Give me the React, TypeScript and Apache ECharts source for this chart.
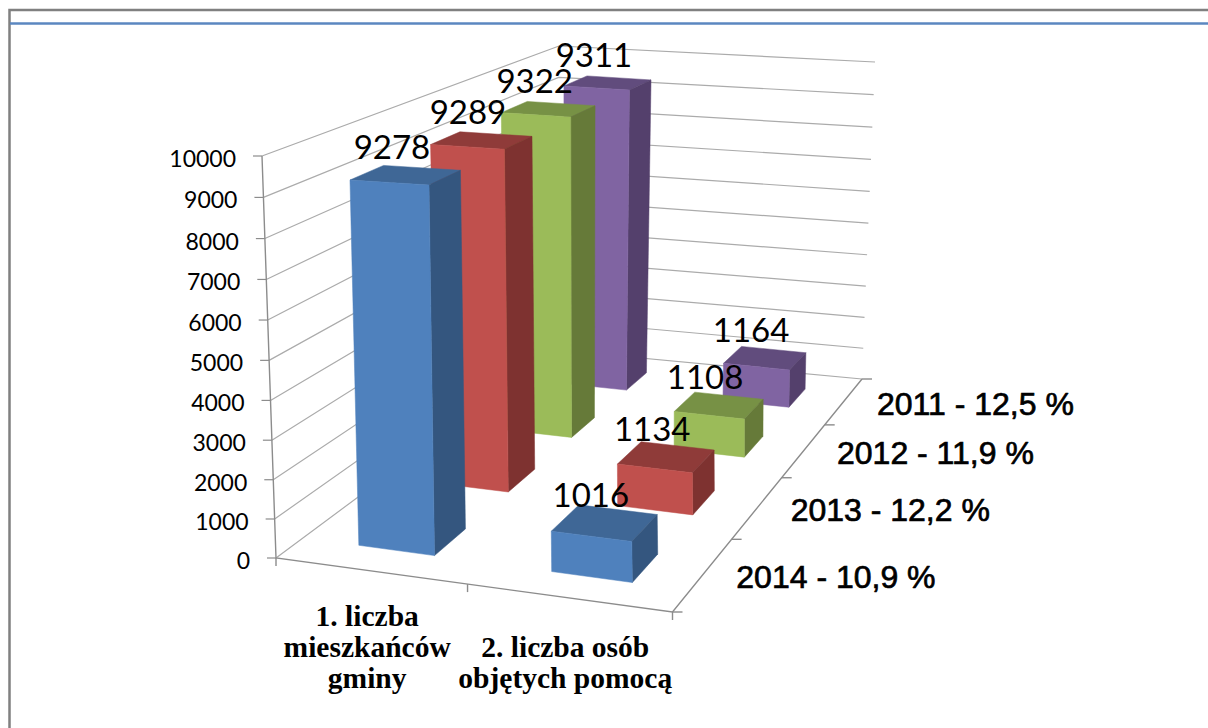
import React, { useEffect, useRef } from "react";
import * as echarts from "echarts";

const categories = ["1. liczba\nmieszkańców\ngminy", "2. liczba osób\nobjętych pomocą"];
const depthLabels = ["2014 - 10,9 %", "2013 - 12,2 %", "2012 - 11,9 %", "2011 - 12,5 %"];
const values2014 = [9278, 1016];
const values2013 = [9289, 1134];
const values2012 = [9322, 1108];
const values2011 = [9311, 1164];
const valueTicks = [0, 1000, 2000, 3000, 4000, 5000, 6000, 7000, 8000, 9000, 10000];
const frontColors = ["#4F81BD", "#C0504D", "#9BBB59", "#8064A2"];
const sideColors = ["#34567F", "#7E3230", "#667A39", "#54406C"];
const topColors = ["#3F6796", "#8F3B39", "#779145", "#614C7D"];

const GRID = { left: 276, top: 156, width: 396, height: 402 };

// Solves a linear system by Gaussian elimination
function solve(A: number[][], b: number[]) {
  const n = b.length;
  const M = A.map((r, i) => [...r, b[i]]);
  for (let i = 0; i < n; i++) {
    let p = i;
    for (let r = i + 1; r < n; r++) if (Math.abs(M[r][i]) > Math.abs(M[p][i])) p = r;
    [M[i], M[p]] = [M[p], M[i]];
    for (let r = 0; r < n; r++) {
      if (r === i) continue;
      const f = M[r][i] / M[i][i];
      for (let c = i; c <= n; c++) M[r][c] -= f * M[i][c];
    }
  }
  return M.map((r, i) => r[n] / r[i]);
}

// Perspective of the 3D box: floor corners, wall-top corners, and the plane
// through the tall bars' tops, as seen in the picture
const floorCorners = [
  [0, 0, 276, 558],
  [1, 0, 672.5, 612],
  [1, 1, 862, 379],
  [0, 1, 556, 350],
];
const barFloorCorners = [
  [0, 0, 276, 558],
  [1, 0, 675.5, 614],
  [1, 1, 865, 381],
  [0, 1, 556, 350],
];
const wallTopCorners = [
  [0, 0, 262, 156],
  [1, 0, 682, 220],
  [1, 1, 875, 62],
  [0, 1, 559, 46],
];
const barPlaneCorners = [
  [0.15, 0.075, 350, 180],
  [0.35, 0.075, 429, 185],
  [0.35, 0.925, 651, 81],
  [0.15, 0.925, 587, 77],
];
const BAR_PLANE_LEVEL = 0.9255;
const HEIGHT_FORESHORTENING = 0.034;

function homography(corners: number[][]) {
  const A: number[][] = [];
  const b: number[] = [];
  for (const [u, v, x, y] of corners) {
    A.push([u, v, 1, 0, 0, 0, -u * x, -v * x]);
    b.push(x);
    A.push([0, 0, 0, u, v, 1, -u * y, -v * y]);
    b.push(y);
  }
  const h = solve(A, b);
  return (u: number, v: number) => {
    const d = h[6] * u + h[7] * v + 1;
    return [(h[0] * u + h[1] * v + h[2]) / d, (h[3] * u + h[4] * v + h[5]) / d];
  };
}
const floorMap = homography(floorCorners);
const barFloorMap = homography(barFloorCorners);
const wallTopMap = homography(wallTopCorners);
const barPlaneMap = homography(barPlaneCorners);
const level = (w: number) => w / (1 + HEIGHT_FORESHORTENING * (1 - w));
const project = (u: number, v: number, w: number) => {
  const a = floorMap(u, v);
  const b = wallTopMap(u, v);
  const t = level(w);
  return [a[0] + (b[0] - a[0]) * t, a[1] + (b[1] - a[1]) * t];
};
const projectBar = (u: number, v: number, w: number) => {
  const a = barFloorMap(u, v);
  const b = barPlaneMap(u, v);
  const t = level(w) / BAR_PLANE_LEVEL;
  return [a[0] + (b[0] - a[0]) * t, a[1] + (b[1] - a[1]) * t];
};

const barData: number[][] = [];
[values2011, values2012, values2013, values2014].forEach((vals, k) => {
  const row = 3 - k;
  vals.forEach((val, c) => barData.push([c, val, row]));
});

const ROW_HALF_DEPTH = 0.05;
const BAR_SHARE = 0.4;
const LABEL_FONT = "33px Lato";

const wOf = (api: any, val: number) =>
  (GRID.top + GRID.height - api.coord([0, val])[1]) / GRID.height;

const renderBar = (_: any, api: any) => {
  const cat = api.value(0);
  const val = api.value(1);
  const row = api.value(2);
  const uc = (api.coord([cat, 0])[0] - GRID.left) / GRID.width;
  const du = (api.size([1, 0])[0] * BAR_SHARE) / 2 / GRID.width;
  const vc = (row + 0.5) / depthLabels.length;
  const w = wOf(api, val);
  const [u0, u1, v0, v1] = [uc - du, uc + du, vc - ROW_HALF_DEPTH, vc + ROW_HALF_DEPTH];
  const poly = (points: number[][], fill: string) => ({
    type: "polygon",
    shape: { points },
    style: { fill, stroke: fill, lineWidth: 0.5 },
  });
  return {
    type: "group",
    children: [
      poly([projectBar(u0, v1, w), projectBar(u1, v1, w), projectBar(u1, v0, w), projectBar(u0, v0, w)], topColors[row]),
      poly([projectBar(u1, v0, 0), projectBar(u1, v1, 0), projectBar(u1, v1, w), projectBar(u1, v0, w)], sideColors[row]),
      poly([projectBar(u0, v0, 0), projectBar(u1, v0, 0), projectBar(u1, v0, w), projectBar(u0, v0, w)], frontColors[row]),
    ],
  };
};

const renderBarLabel = (_: any, api: any) => {
  const cat = api.value(0);
  const val = api.value(1);
  const row = api.value(2);
  const uc = (api.coord([cat, 0])[0] - GRID.left) / GRID.width;
  const vc = (row + 0.5) / depthLabels.length;
  const [x, y] = projectBar(uc, vc, wOf(api, val));
  return {
    type: "text",
    style: {
      text: String(val),
      x: x - 14,
      y: y - 29,
      font: LABEL_FONT,
      fill: "#000",
      align: "center",
      verticalAlign: "middle",
    },
  };
};

const renderWall = (_: any, api: any) => {
  const val = api.value(1);
  const w = wOf(api, val);
  const a = project(0, 0, w);
  return {
    type: "group",
    children: [
      {
        type: "polyline",
        shape: { points: [a, project(0, 1, w), project(1, 1, w)] },
        style: { stroke: "#ABABAB", lineWidth: 1.2, fill: "none" },
      },
      {
        type: "line",
        shape: { x1: a[0] - 9, y1: a[1], x2: a[0], y2: a[1] },
        style: { stroke: "#8C8C8C", lineWidth: 1.2 },
      },
      {
        type: "text",
        style: {
          text: String(val),
          x: a[0] - 26,
          y: a[1] + 2,
          font: "23px Lato",
          fill: "#000",
          align: "right",
          verticalAlign: "middle",
        },
      },
    ],
  };
};

const renderFloor = () => {
  const axisStyle = { stroke: "#8C8C8C", lineWidth: 1.4, fill: "none" };
  const children: any[] = [
    {
      type: "polyline",
      shape: { points: [project(0, 0, 1), project(0, 0, 0), project(1, 0, 0), project(1, 1, 0)] },
      style: axisStyle,
    },
  ];
  [0, 0.5, 1].forEach((u) => {
    const p = project(u, 0, 0);
    children.push({
      type: "line",
      shape: { x1: p[0], y1: p[1], x2: p[0], y2: p[1] + 8 },
      style: axisStyle,
    });
  });
  depthLabels.forEach((label, i) => {
    const t = project(1, (i + 1) / depthLabels.length, 0);
    children.push({
      type: "line",
      shape: { x1: t[0], y1: t[1], x2: t[0] + 10, y2: t[1] },
      style: axisStyle,
    });
    const m = project(1, (i + 0.5) / depthLabels.length, 0);
    children.push({
      type: "text",
      style: {
        text: label,
        x: m[0] + 33,
        y: m[1] + 2.5,
        font: "32px 'Liberation Sans'",
        fill: "#000",
        stroke: "#000",
        lineWidth: 0.7,
        align: "left",
        verticalAlign: "middle",
      },
    });
  });
  const f = project(1, 0, 0);
  children.push({
    type: "line",
    shape: { x1: f[0], y1: f[1], x2: f[0] + 10, y2: f[1] },
    style: axisStyle,
  });
  categories.forEach((cat, c) => {
    const p = project((c + 0.5) / categories.length, 0, 0);
    children.push({
      type: "text",
      style: {
        text: cat,
        x: p[0] - 3,
        y: 693,
        font: "bold 29.5px 'Liberation Serif'",
        lineHeight: 31,
        fill: "#000",
        align: "center",
        verticalAlign: "bottom",
      },
    });
  });
  return { type: "group", children };
};

export default function App() {
  const ref = useRef<HTMLDivElement>(null);
  useEffect(() => {
    const chart = echarts.init(ref.current!, undefined, { renderer: "svg" });
    chart.setOption({
      animation: false,
      backgroundColor: "#fff",
      grid: { ...GRID, containLabel: false },
      xAxis: { type: "category", data: categories, show: false },
      yAxis: { type: "value", min: 0, max: 10000, interval: 1000, show: false },
      graphic: [
        {
          type: "polyline",
          shape: { points: [[9.5, 728], [9.5, 10], [1208, 10]] },
          style: { stroke: "#808080", lineWidth: 2.5, fill: "none" },
        },
        {
          type: "line",
          shape: { x1: 10, y1: 23.5, x2: 1208, y2: 23.5 },
          style: { stroke: "#5B87C0", lineWidth: 2.4 },
        },
      ],
      series: [
        {
          type: "custom",
          name: "walls",
          renderItem: renderWall,
          data: valueTicks.map((t) => [0, t]),
          encode: { x: 0, y: 1 },
          z: 1,
          silent: true,
        },
        {
          type: "custom",
          name: "floor",
          renderItem: renderFloor,
          data: [[0, 0]],
          encode: { x: 0, y: 1 },
          z: 2,
          silent: true,
        },
        {
          type: "custom",
          name: "bars",
          renderItem: renderBar,
          data: barData,
          encode: { x: 0, y: 1 },
          z: 3,
          silent: true,
        },
        {
          type: "custom",
          name: "labels",
          renderItem: renderBarLabel,
          data: barData,
          encode: { x: 0, y: 1 },
          z: 4,
          silent: true,
        },
      ],
    });
    return () => chart.dispose();
  }, []);
  return (
    <div
      ref={ref}
      style={{ position: "fixed", left: 0, top: 0, width: 1208, height: 728 }}
    />
  );
}
